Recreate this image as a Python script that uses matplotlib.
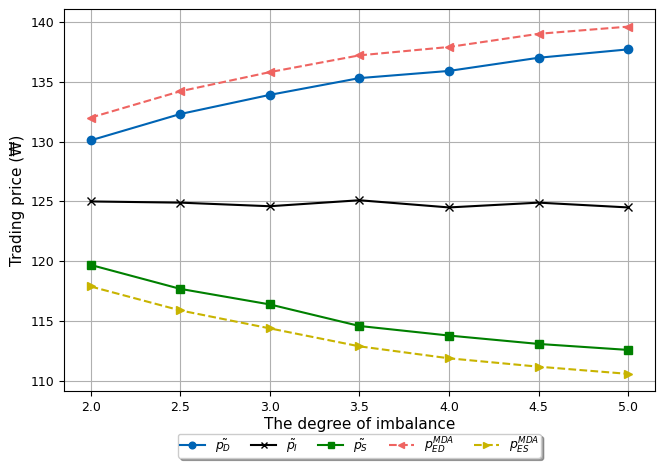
import matplotlib
matplotlib.use('Agg')
import matplotlib.pyplot as plt

# degree of imbalance and trading prices
imbalance = [2.0, 2.5, 3.0, 3.5, 4.0, 4.5, 5.0]
p_D = [130.1, 132.3, 133.9, 135.3, 135.9, 137.0, 137.7]
p_I = [125.0, 124.9, 124.6, 125.1, 124.5, 124.9, 124.5]
p_S = [119.7, 117.7, 116.4, 114.6, 113.8, 113.1, 112.6]
p_ED_mda = [132.0, 134.2, 135.8, 137.2, 137.9, 139.0, 139.6]
p_ES_mda = [117.9, 115.9, 114.4, 112.9, 111.9, 111.2, 110.6]

fig, ax = plt.subplots(figsize=(6.57, 4.63), dpi=100)

ax.plot(imbalance, p_D, color='#0064b4', marker='o', markersize=6, linewidth=1.5, label=r'$\tilde{p_D}$')
ax.plot(imbalance, p_I, color='black', marker='x', markersize=6, linewidth=1.5, label=r'$\tilde{p_I}$')
ax.plot(imbalance, p_S, color='green', marker='s', markersize=6, linewidth=1.5, label=r'$\tilde{p_S}$')
ax.plot(imbalance, p_ED_mda, color='#ef6461', marker='<', markersize=6, linewidth=1.5,
        linestyle='--', label=r'$p_{ED}^{MDA}$')
ax.plot(imbalance, p_ES_mda, color='#c8b400', marker='>', markersize=6, linewidth=1.5,
        linestyle='--', label=r'$p_{ES}^{MDA}$')

ax.set_xlabel('The degree of imbalance', fontsize=11, labelpad=2)
ax.set_ylabel('Trading price (₩)', fontsize=11)
ax.set_xticks([2.0, 2.5, 3.0, 3.5, 4.0, 4.5, 5.0])
ax.set_yticks([110, 115, 120, 125, 130, 135, 140])
ax.tick_params(labelsize=9)
ax.grid(True)

ax.legend(loc='upper center', bbox_to_anchor=(0.5, -0.095), ncol=5, shadow=True,
          fontsize=9, handlelength=2.0, borderpad=0.15, columnspacing=1.6,
          markerscale=0.8)

fig.subplots_adjust(left=0.097, right=0.997, top=0.98, bottom=0.155)
fig.savefig('out.png', dpi=100)
